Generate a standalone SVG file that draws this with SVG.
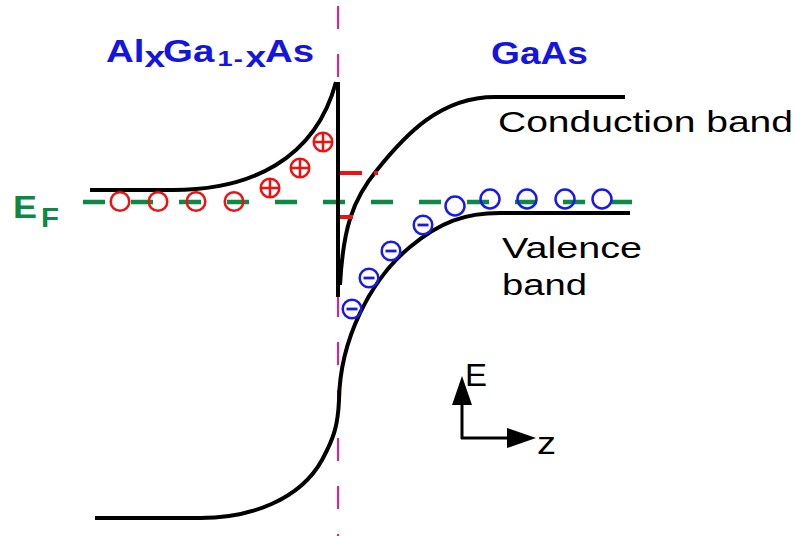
<svg xmlns="http://www.w3.org/2000/svg" width="796" height="536" viewBox="0 0 796 536">
<style>
.band{fill:none;stroke:#000;stroke-width:4;stroke-linecap:butt}
.title{font-family:"Liberation Sans",Arial,sans-serif;font-weight:bold;fill:#1515e0}
.lbl{font-family:"Liberation Sans",Arial,sans-serif;fill:#000}
.ef{font-family:"Liberation Sans",Arial,sans-serif;font-weight:bold;fill:#0c8a45}
.hole{fill:none;stroke:#ee1111;stroke-width:2.5}
.elec{fill:none;stroke:#1a1ae6;stroke-width:2.5}
.red{stroke:#ee1111;stroke-width:4}
</style>
<defs>
<g id="plusc"><circle r="9.3" class="hole"/><path d="M-8,0H8M0,-8V8" stroke="#ee1111" stroke-width="2.5"/></g>
<g id="minusc"><circle r="9.3" class="elec"/><path d="M-5.5,0H5.5" stroke="#1a1ae6" stroke-width="2.8"/></g>
<marker id="ah" markerWidth="30" markerHeight="22" refX="1" refY="11" orient="auto" markerUnits="userSpaceOnUse"><path d="M0,1 L29,11 L0,21 Z" fill="#000"/></marker>
</defs>

<g id="interface">
<line x1="338" y1="6" x2="338" y2="536" stroke="#f0169c" stroke-width="2" stroke-dasharray="23 25"/>
</g>

<g id="fermi-level">
<line x1="83" y1="202" x2="632" y2="202" stroke="#0c8a45" stroke-width="4.5" stroke-dasharray="22 26"/>
</g>

<g id="connectors">
<path id="cb-left" class="band" d="M90,190 L173,190 C250,190 315,160 336,82"/>
<line id="barrier" class="band" x1="338" y1="82" x2="338" y2="297"/>
<path id="cb-right" class="band" d="M340,285 C343,230 352,200 377,170 C405,135 440,97 495,97 L625,97"/>
<path id="vb" class="band" d="M95,518 L200,518 C250,518 300,500 322,460 C334,438 338,425 339,400 C340,340 370,280 410,247 C440,222 465,213 500,213 L630,213"/>
</g>

<g id="subbands">
<line class="red" x1="340" y1="173" x2="362" y2="173"/>
<line class="red" x1="374" y1="173" x2="378" y2="173"/>
<line class="red" x1="340" y1="217" x2="353" y2="217"/>
</g>

<g id="donors-neutral">
<circle class="hole" cx="120" cy="201.5" r="9.3"/>
<circle class="hole" cx="158" cy="201.5" r="9.3"/>
<circle class="hole" cx="196" cy="201.5" r="9.3"/>
<circle class="hole" cx="234" cy="201.5" r="9.3"/>
</g>
<g id="donors-ionized">
<use href="#plusc" x="270" y="188"/>
<use href="#plusc" x="300" y="168"/>
<use href="#plusc" x="323" y="142"/>
</g>
<g id="electrons">
<use href="#minusc" x="352" y="309"/>
<use href="#minusc" x="369" y="278"/>
<use href="#minusc" x="391" y="251"/>
<use href="#minusc" x="423" y="225"/>
</g>
<g id="acceptors-neutral">
<circle class="elec" cx="455" cy="206" r="9.5"/>
<circle class="elec" cx="490" cy="199" r="9.5"/>
<circle class="elec" cx="527" cy="199" r="9.5"/>
<circle class="elec" cx="565" cy="199" r="9.5"/>
<circle class="elec" cx="602" cy="199" r="9.5"/>
</g>

<g id="title-left">
<text class="title" transform="scale(1.24 1)" y="62"><tspan x="85.5" font-size="31">Al</tspan><tspan x="116.5" y="67" font-size="30">x</tspan><tspan x="131.5" y="62" font-size="31">Ga</tspan><tspan x="175.5" y="66" font-size="22">1</tspan><tspan x="188.5" y="66" font-size="22">-</tspan><tspan x="198" y="67" font-size="30">x</tspan><tspan x="213.7" y="62" font-size="31">As</tspan></text>
</g>
<g id="title-right">
<text class="title" x="491" y="64" font-size="31" textLength="97" lengthAdjust="spacingAndGlyphs">GaAs</text>
</g>

<g id="label-cb">
<text class="lbl" x="498" y="132" font-size="30" textLength="295" lengthAdjust="spacingAndGlyphs">Conduction band</text>
</g>
<g id="label-vb">
<text class="lbl" x="502" y="258" font-size="30" textLength="140" lengthAdjust="spacingAndGlyphs">Valence</text>
<text class="lbl" x="502" y="295" font-size="30" textLength="85" lengthAdjust="spacingAndGlyphs">band</text>
</g>
<g id="label-ef">
<text class="ef" x="13" y="218" font-size="32" textLength="24" lengthAdjust="spacingAndGlyphs">E</text>
<text class="ef" x="41" y="227" font-size="28" textLength="18" lengthAdjust="spacingAndGlyphs">F</text>
</g>

<g id="axes">
<line x1="462" y1="439" x2="462" y2="404" stroke="#000" stroke-width="3" marker-end="url(#ah)"/>
<line x1="461" y1="438" x2="508" y2="438" stroke="#000" stroke-width="3" marker-end="url(#ah)"/>
<text class="lbl" x="465" y="386" font-size="32" textLength="22" lengthAdjust="spacingAndGlyphs">E</text>
<text class="lbl" x="537" y="454" font-size="31" textLength="19" lengthAdjust="spacingAndGlyphs">z</text>
</g>
</svg>
